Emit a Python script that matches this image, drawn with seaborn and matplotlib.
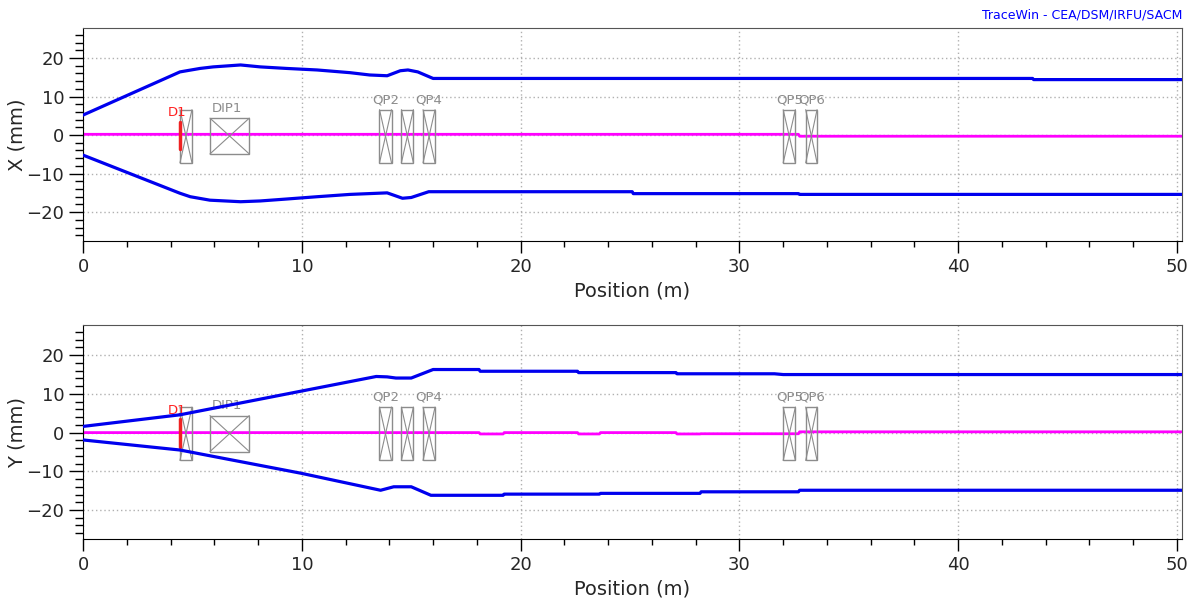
import numpy as np
import pandas as pd
import seaborn as sns
import matplotlib
matplotlib.use("Agg")
import matplotlib.pyplot as plt
from matplotlib.patches import Rectangle
from matplotlib.ticker import MultipleLocator

# envelope data, X plane (mm vs m)
x_up_pos = [0, 4.43, 5.35, 5.95, 7.2, 8.1, 9.3, 10.7, 12.2, 13.1, 13.9, 14.5, 14.85, 15.3, 16.0, 43.4, 43.45, 50.23]
x_up = [5.2, 16.4, 17.3, 17.7, 18.2, 17.7, 17.3, 16.9, 16.2, 15.6, 15.4, 16.7, 16.9, 16.4, 14.7, 14.7, 14.4, 14.4]
x_lo_pos = [0, 4.43, 4.9, 5.8, 7.2, 8.1, 9.3, 10.7, 12.2, 13.9, 14.6, 15.0, 15.8, 25.1, 25.15, 32.7, 32.75, 50.23]
x_lo = [-5.2, -15.1, -16.0, -16.9, -17.3, -17.1, -16.6, -16.0, -15.4, -15.0, -16.4, -16.2, -14.7, -14.7, -15.2, -15.2, -15.4, -15.4]
x_cen_pos = [0, 32.7, 32.75, 50.23]
x_cen = [0.2, 0.2, -0.3, -0.3]

# envelope data, Y plane
y_up_pos = [0, 4.43, 13.4, 13.9, 14.3, 15.0, 16.0, 18.1, 18.15, 22.6, 22.65, 27.1, 27.15, 31.6, 32.0, 50.23]
y_up = [1.6, 4.6, 14.5, 14.4, 14.1, 14.1, 16.3, 16.3, 15.85, 15.85, 15.5, 15.5, 15.2, 15.2, 15.0, 15.0]
y_lo_pos = [0, 4.43, 9.96, 13.6, 14.2, 15.0, 15.9, 19.2, 19.25, 23.6, 23.65, 28.2, 28.25, 32.7, 32.75, 50.23]
y_lo = [-1.9, -4.5, -10.5, -14.9, -14.0, -14.0, -16.2, -16.2, -15.9, -15.9, -15.7, -15.7, -15.3, -15.3, -14.9, -14.9]
y_cen_pos = [0, 18.1, 18.15, 19.2, 19.25, 22.6, 22.65, 23.6, 23.65, 27.1, 27.15, 28.2, 28.25, 32.7, 32.75, 50.23]
y_cen = [0, 0, -0.35, -0.35, 0, 0, -0.35, -0.35, 0, 0, -0.35, -0.35, -0.3, -0.3, 0.2, 0.2]

# lattice elements
quad_names = ["", "QP2", "", "QP4", "QP5", "QP6"]
quad_start = [4.43, 13.55, 14.55, 15.54, 32.0, 33.03]
quad_end = [4.98, 14.1, 15.1, 16.09, 32.56, 33.55]
dip_name = "DIP1"
dip_start, dip_end = 5.8, 7.6
diag_name = "D1"
diag_pos = 4.42

sns.set_style("ticks")
plt.rcParams['font.family'] = ['DejaVu Sans']

fig = plt.figure(figsize=(11.93, 6.03), dpi=100)
ax1 = fig.add_axes([0.0696, 0.6003, 0.9212, 0.3533])
ax2 = fig.add_axes([0.0696, 0.1061, 0.9212, 0.3549])

panels = [
    (ax1, "X (mm)", x_up_pos, x_up, x_lo_pos, x_lo, x_cen_pos, x_cen),
    (ax2, "Y (mm)", y_up_pos, y_up, y_lo_pos, y_lo, y_cen_pos, y_cen),
]

gray = "#8c8c8c"
for ax, ylab, up_p, up, lo_p, lo, c_p, c in panels:
    ax.set_xlim(0, 50.23)
    ax.set_ylim(-27.5, 27.8)
    ax.xaxis.set_major_locator(MultipleLocator(10))
    ax.xaxis.set_minor_locator(MultipleLocator(2))
    ax.yaxis.set_major_locator(MultipleLocator(10))
    ax.yaxis.set_minor_locator(MultipleLocator(2))
    ax.grid(True, which="major", color="#b0b0b0", linestyle=(0, (1, 2)), linewidth=1)
    ax.tick_params(axis="x", which="major", length=8.5, width=1, labelsize=13, color="black")
    ax.tick_params(axis="x", which="minor", length=4.5, width=1, color="black")
    ax.tick_params(axis="y", which="major", length=10, width=1, labelsize=13, color="black")
    ax.tick_params(axis="y", which="minor", length=5.5, width=1, color="black")
    for s in ["left", "bottom"]:
        ax.spines[s].set_color("black")
    for s in ["top", "right"]:
        ax.spines[s].set_color("#555555")
    ax.set_xlabel("Position (m)", fontsize=14, labelpad=4)
    ax.set_ylabel(ylab, fontsize=14, labelpad=0)

    # elements
    for name, a, b in zip(quad_names, quad_start, quad_end):
        top, bot = 6.6, -7.2
        ax.add_patch(Rectangle((a, bot), b - a, top - bot, fill=False, ec=gray, lw=1, zorder=3))
        ax.plot([a, b], [top, bot], color=gray, lw=0.8, zorder=3)
        ax.plot([a, b], [bot, top], color=gray, lw=0.8, zorder=3)
        if name:
            ax.text((a + b) / 2, top + 1.6, name, ha="center", va="baseline", fontsize=9.5, color=gray)
    dtop, dbot = 4.4, -4.9
    ax.add_patch(Rectangle((dip_start, dbot), dip_end - dip_start, dtop - dbot, fill=False, ec=gray, lw=1, zorder=3))
    ax.plot([dip_start, dip_end], [dtop, dbot], color=gray, lw=0.8, zorder=3)
    ax.plot([dip_start, dip_end], [dbot, dtop], color=gray, lw=0.8, zorder=3)
    ax.text((dip_start + dip_end) / 2 - 0.1, dtop + 1.6, dip_name, ha="center", va="baseline", fontsize=9.5, color=gray)
    ax.plot([diag_pos, diag_pos], [3.4, -3.6], color="#ee2222", lw=2.5, zorder=4)
    ax.text(diag_pos - 0.1, 3.4 + 1.5, diag_name, ha="center", va="baseline", fontsize=9.5, color="#ff2020")

    sns.lineplot(x=c_p, y=c, ax=ax, color="#ff00ff", lw=2, sort=False, estimator=None, zorder=2)
    sns.lineplot(x=up_p, y=up, ax=ax, color="#0000ee", lw=2.3, sort=False, estimator=None, zorder=5)
    sns.lineplot(x=lo_p, y=lo, ax=ax, color="#0000ee", lw=2.3, sort=False, estimator=None, zorder=5)

fig.text(0.9908, 0.975, "TraceWin - CEA/DSM/IRFU/SACM", ha="right", va="center", fontsize=9, color="#0000ff")

fig.savefig("out.png", dpi=100)
